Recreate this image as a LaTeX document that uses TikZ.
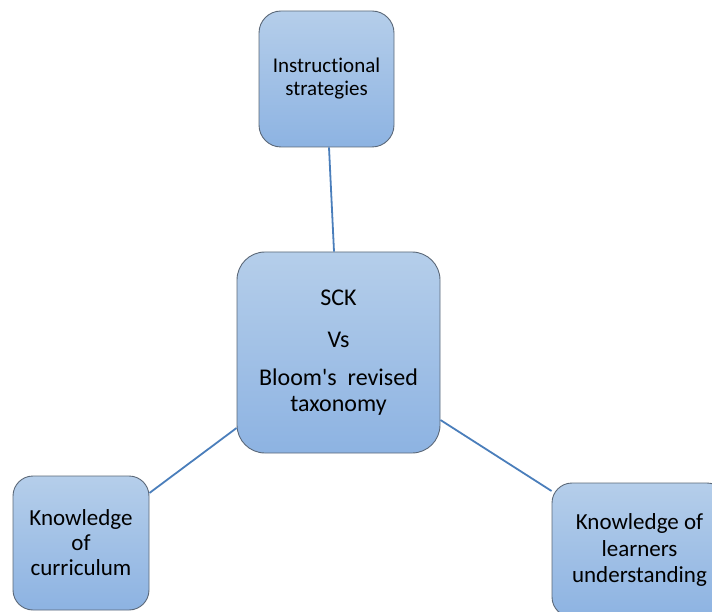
\documentclass[tikz,border=0pt]{standalone}
\usepackage{fontspec}
\setmainfont{Carlito}[Ligatures={NoCommon}]
\definecolor{boxtop}{HTML}{B5CEEA}
\definecolor{boxbot}{HTML}{8DB3E2}
\definecolor{boxline}{HTML}{5B6878}
\definecolor{conn}{HTML}{4A7EBB}
\tikzset{
  box/.style={draw=boxline, line width=0.9pt, top color=boxtop, bottom color=boxbot,
    align=center, inner sep=0pt},
  connector/.style={draw=conn, line width=1.8pt}
}
\begin{document}
\begin{tikzpicture}[x=1pt,y=-1pt]
\useasboundingbox (0,0) rectangle (712,612);
\clip (0,0) rectangle (712,612);
\node[box, rounded corners=22pt, minimum width=135pt, minimum height=136pt,
  font=\fontsize{21}{23}\selectfont] (top) at (326.5,79) {Instructional\\strategies};
\node[box, rounded corners=28pt, minimum width=203pt, minimum height=201pt,
  font=\fontsize{24}{26}\selectfont] (center) at (338.5,352.5)
  {SCK\\[16pt]Vs\\[12pt]Bloom\textquotesingle s\ \ revised\\taxonomy};
\node[box, rounded corners=20pt, minimum width=136pt, minimum height=134pt,
  font=\fontsize{23}{25}\selectfont] (left) at (81,543) {Knowledge\\of\\curriculum};
\node[box, rounded corners=20pt, minimum width=175pt, minimum height=134pt,
  font=\fontsize{23}{26.5}\selectfont] (right) at (639.5,550) {Knowledge of\\learners\\understanding};
\draw[connector] ([xshift=2.5pt]top.south) -- ([xshift=-4.5pt]center.north);
\draw[connector] ([yshift=-75.5pt]center.west) -- ([yshift=50pt]left.east);
\draw[connector] ([yshift=-67.5pt]center.east) -- ([yshift=59pt]right.west);
\end{tikzpicture}
\end{document}
